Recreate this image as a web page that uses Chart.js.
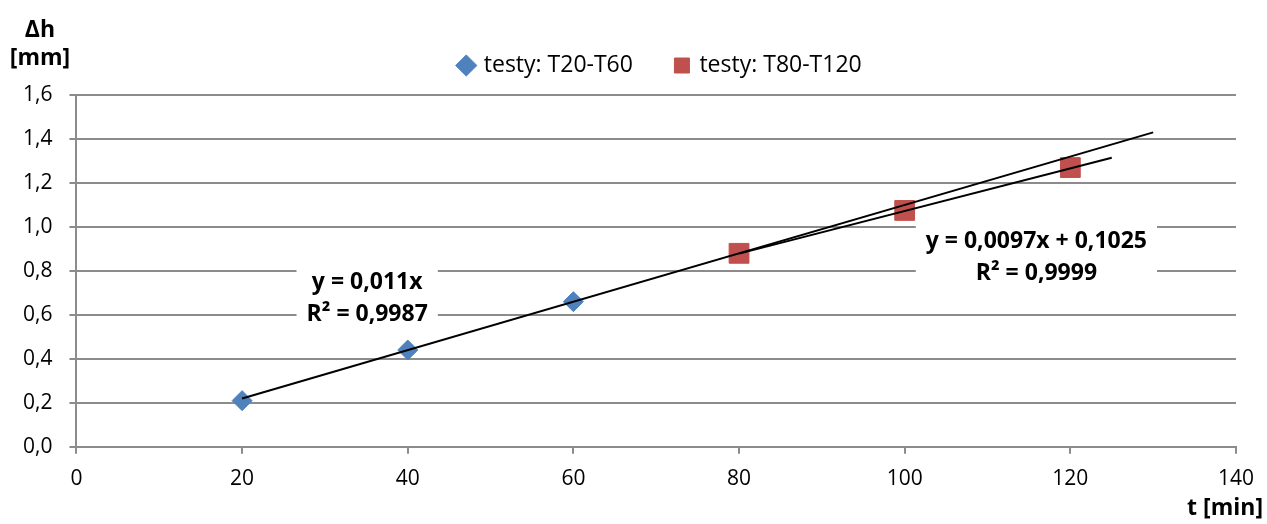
<!DOCTYPE html>
<html>
<head>
<meta charset="utf-8">
<script src="https://cdn.jsdelivr.net/npm/chart.js@4"></script>
<style>
  html, body { margin: 0; padding: 0; background: #fff; }
  #wrap { width: 1267px; height: 524px; }
</style>
</head>
<body>
<div id="wrap"><canvas id="chart"></canvas></div>
<script>
// measured values
const xs1 = [20, 40, 60];
const ys1 = [0.21, 0.44, 0.66];
const xs2 = [80, 100, 120];
const ys2 = [0.88, 1.075, 1.27];

// trendlines: slope, intercept, x range
const trend1 = [0.011, 0, 20, 130];
const trend2 = [0.0097, 0.1025, 80, 125];

const seriesNames = ['testy: T20-T60', 'testy: T80-T120'];
const trendLabels = [
    ['y = 0,011x', 'R\u00b2 = 0,9987'],
    ['y = 0,0097x + 0,1025', 'R\u00b2 = 0,9999']
];
// label anchor points (data units)
const labelAt = [[35.1, 0.675], [115.9, 0.862]];

const FONT = '"Open Sans", sans-serif';
const FS = 21;   // ticks
const FL = 23;   // legend + labels
const GRID = '#8c8c8c';

const pts = (xs, ys) => xs.map((x, i) => ({ x: x, y: ys[i] }));
const line = t => [{ x: t[2], y: t[0] * t[2] + t[1] }, { x: t[3], y: t[0] * t[3] + t[1] }];

// legend: a bit more room below it, and shifted right like the original
const legendTweak = {
    id: 'legendTweak',
    beforeInit(chart) {
        const fit = chart.legend.fit;
        chart.legend.fit = function () {
            fit.bind(chart.legend)();
            this.height += 8;
        };
    },
    afterLayout(chart) {
        chart.legend.left += 40;
        chart.legend.right += 40;
    }
};

const textPlugin = {
    id: 'texts',
    afterDatasetsDraw(chart) {
        const c = chart.ctx;
        const sx = chart.scales.x, sy = chart.scales.y;
        c.save();
        c.font = 'bold ' + FL + 'px ' + FONT;
        c.textAlign = 'center';
        c.textBaseline = 'middle';
        trendLabels.forEach((lines, i) => {
            const cx = sx.getPixelForValue(labelAt[i][0]);
            const cy = sy.getPixelForValue(labelAt[i][1]);
            const w = Math.max(...lines.map(l => c.measureText(l).width)) + 20;
            c.fillStyle = '#fff';
            c.fillRect(cx - w / 2, cy - 33, w, 64);
            c.fillStyle = '#000';
            c.fillText(lines[0], cx, cy - 16);
            c.fillText(lines[1], cx, cy + 16);
        });
        // axis titles
        c.fillText('\u0394h', 40, 30);
        c.fillText('[mm]', 40, 58);
        c.textAlign = 'right';
        c.fillText('t [min]', 1263, 508);
        c.restore();
    }
};

new Chart(document.getElementById('chart'), {
    type: 'scatter',
    data: {
        datasets: [
            {
                label: seriesNames[0],
                data: pts(xs1, ys1),
                backgroundColor: '#4f81bd',
                borderColor: '#4f81bd',
                pointStyle: 'rectRot',
                pointRadius: 10,
                order: 2
            },
            {
                label: seriesNames[1],
                data: pts(xs2, ys2),
                backgroundColor: '#c0504d',
                borderColor: '#c0504d',
                pointStyle: 'rect',
                pointRadius: 14,
                order: 2
            },
            {
                label: 'trend1',
                type: 'line',
                data: line(trend1),
                borderColor: '#000',
                borderWidth: 2,
                pointRadius: 0,
                order: 1
            },
            {
                label: 'trend2',
                type: 'line',
                data: line(trend2),
                borderColor: '#000',
                borderWidth: 2,
                pointRadius: 0,
                order: 1
            }
        ]
    },
    options: {
        responsive: true,
        maintainAspectRatio: false,
        animation: false,
        layout: { padding: { left: 6, right: 31, top: 11, bottom: 19 } },
        plugins: {
            tooltip: { enabled: false },
            legend: {
                position: 'top',
                labels: {
                    filter: item => !item.text.startsWith('trend'),
                    usePointStyle: true,
                    boxHeight: 15,
                    boxWidth: 12,
                    padding: 43,
                    color: '#000',
                    font: { family: FONT, size: FL }
                }
            }
        },
        scales: {
            x: {
                type: 'linear',
                min: 0,
                max: 140,
                ticks: {
                    stepSize: 20,
                    color: '#000',
                    padding: 13,
                    font: { family: FONT, size: FS }
                },
                grid: { drawOnChartArea: false, color: GRID, tickLength: 7, lineWidth: 2 },
                border: { color: GRID, width: 2 }
            },
            y: {
                min: 0,
                max: 1.6,
                ticks: {
                    stepSize: 0.2,
                    color: '#000',
                    padding: 17,
                    font: { family: FONT, size: FS },
                    callback: v => v.toFixed(1).replace('.', ',')
                },
                grid: { color: GRID, tickLength: 7, lineWidth: 2 },
                border: { color: GRID, width: 2 }
            }
        }
    },
    plugins: [legendTweak, textPlugin]
});
</script>
</body>
</html>
